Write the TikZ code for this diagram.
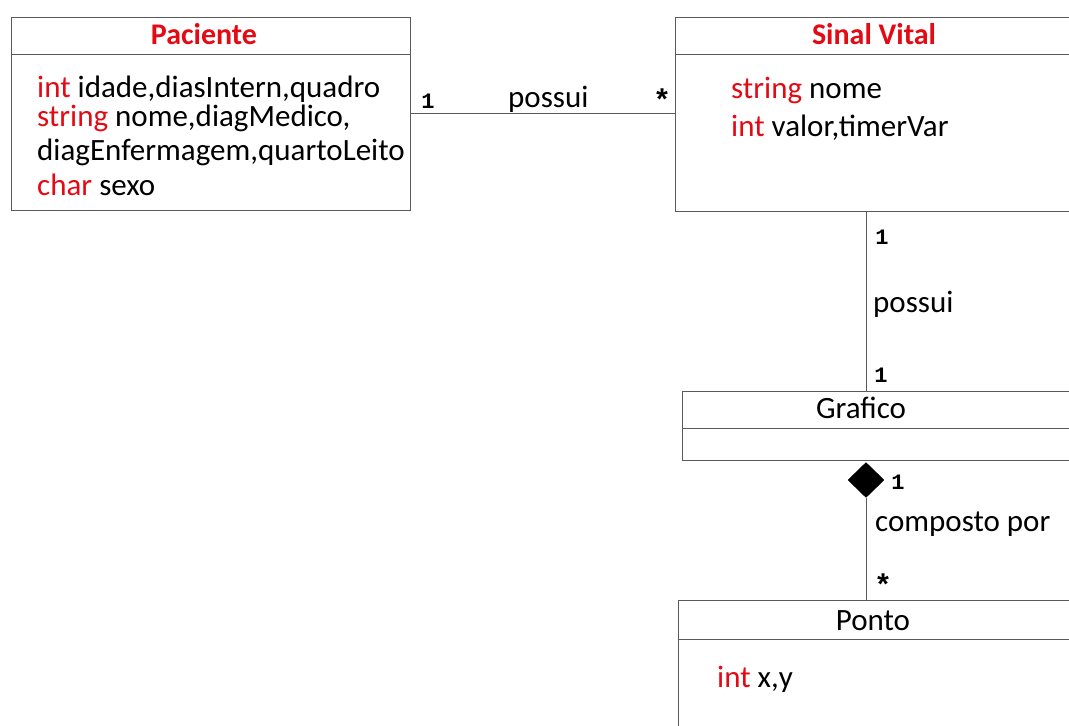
\documentclass[tikz,border=0pt]{standalone}
\usepackage{fontspec}
\setmainfont{Carlito}
\newfontfamily\multfont{Liberation Mono}
\usetikzlibrary{shapes.geometric}
\definecolor{typered}{RGB}{228,10,20}
\definecolor{linegray}{RGB}{90,90,90}
\tikzset{
  classbox/.style={draw=linegray, line width=1pt, rectangle, inner sep=0pt},
  divider/.style={draw=linegray, line width=1pt},
  assoc/.style={draw=linegray, line width=1pt},
  txt/.style={anchor=west, inner sep=0pt, font=\fontsize{31}{36}\selectfont, text height=0.7em, text depth=0.2em},
  title/.style={inner sep=0pt, font=\fontsize{31}{36}\selectfont, text height=0.7em, text depth=0.2em},
  mult/.style={inner sep=0pt, font=\multfont\bfseries\fontsize{22}{26}\selectfont},
  star/.style={inner sep=0pt, font=\multfont\bfseries\fontsize{30}{34}\selectfont},
  rolelbl/.style={anchor=west, inner sep=0pt, font=\fontsize{31}{36}\selectfont, text height=0.7em, text depth=0.2em}
}
\begin{document}
\begin{tikzpicture}[x=1pt,y=-1pt]
\useasboundingbox (0,0) rectangle (1069,726);
\clip (0,0) rectangle (1069,726);
\fill[white] (0,0) rectangle (1069,726);

% class boxes
\node[classbox, minimum width=399pt, minimum height=193pt] (pac) at (210.5,113.5) {};
\node[classbox, minimum width=398pt, minimum height=194pt] (sin) at (874,114) {};
\node[classbox, minimum width=393pt, minimum height=69pt] (graf) at (878.5,425.5) {};
\node[classbox, minimum width=397pt, minimum height=160pt] (pto) at (876.5,680) {};

% compartment dividers
\draw[divider] (pac.west |- 0,54) -- (pac.east |- 0,54);
\draw[divider] (sin.west |- 0,54) -- (sin.east |- 0,54);
\draw[divider] (graf.west |- 0,428) -- (graf.east |- 0,428);
\draw[divider] (pto.west |- 0,639) -- (pto.east |- 0,639);

% Paciente
\node[title, text=typered, font=\bfseries\fontsize{30}{34}\selectfont] (pactitle) at (204,42) {Paciente};
\node[txt] (pac1) at (37,95) {\textcolor{typered}{int} idade,diasIntern,quadro};
\node[txt] (pac2) at (37,124) {\textcolor{typered}{string} nome,diagMedico,};
\node[txt] (pac3) at (37,158) {diagEnfermagem,quartoLeito};
\node[txt] (pac4) at (37,193) {\textcolor{typered}{char} sexo};

% Sinal Vital
\node[title, text=typered, font=\bfseries\fontsize{30}{34}\selectfont] (sintitle) at (874,42) {Sinal Vital};
\node[txt] (sin1) at (731,96) {\textcolor{typered}{string} nome};
\node[txt] (sin2) at (731,134) {\textcolor{typered}{int} valor,timerVar};

% Grafico
\node[title] (graftitle) at (861,416) {Grafico};

% Ponto
\node[title] (ptotitle) at (873,628) {Ponto};
\node[txt] (pto1) at (717,685) {\textcolor{typered}{int} x,y};

% composition diamond
\node[diamond, fill=black, draw=black, minimum width=36pt, minimum height=35pt, inner sep=0pt] (dia) at (866,480) {};

% associations
\draw[assoc] (pac.east) -- (pac.east -| sin.west);
\draw[assoc] (sin.south -| dia) -- (graf.north -| dia);
\draw[assoc] (dia.south) -- (pto.north -| dia);

% multiplicities and role names
\node[mult] (m1) at (428,101) {1};
\node[rolelbl] (r1) at (508,105) {possui};
\node[star] (m2) at (662,100) {*};

\node[mult] (m3) at (882,237) {1};
\node[rolelbl] (r2) at (873,310) {possui};
\node[mult] (m4) at (881,375) {1};

\node[mult] (m5) at (898,482) {1};
\node[rolelbl] (r3) at (875,529) {composto por};
\node[star] (m6) at (883,585) {*};
\end{tikzpicture}
\end{document}
